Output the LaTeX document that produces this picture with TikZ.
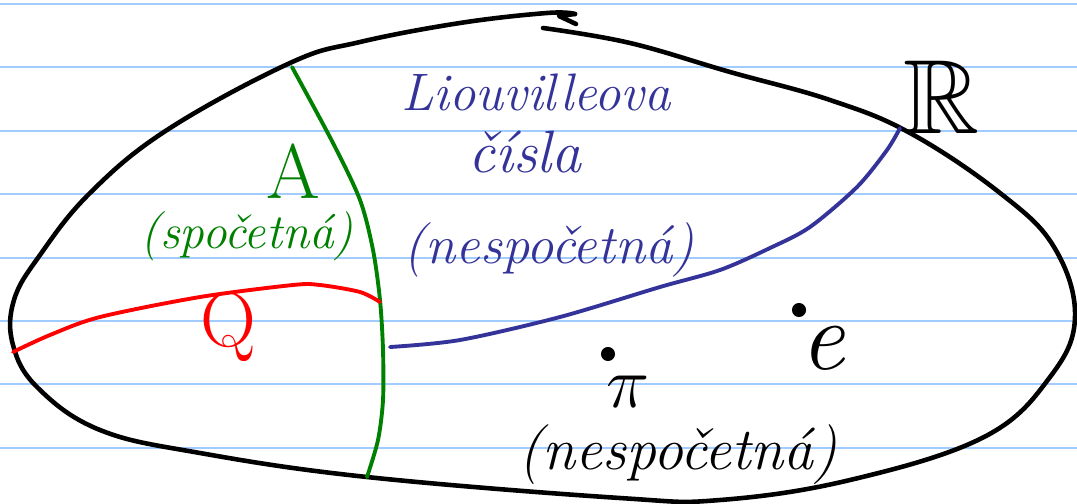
\documentclass[tikz,border=0pt]{standalone}
\usepackage{amssymb}
\definecolor{ruleblue}{RGB}{160,204,255}
\definecolor{pgreen}{RGB}{0,128,0}
\definecolor{pblue}{RGB}{51,51,153}
\definecolor{pred}{RGB}{255,0,0}
\tikzset{
  ruleline/.style={ruleblue, line width=0.6pt},
  pen/.style={line width=1.3pt, line cap=round, line join=round},
  cpen/.style={line width=1.1pt, line cap=round, line join=round},
  hand/.style={inner sep=0pt, font=\itshape}
}
\begin{document}
\begin{tikzpicture}[x=0.01cm,y=-0.01cm]
\useasboundingbox (0,0) rectangle (1077,503);
\fill[white] (0,0) rectangle (1077,503);
\foreach \k in {0,...,7} {
  \draw[ruleline] (0,{4+63.4*\k}) -- (1077,{4+63.4*\k});
}
% main outline
\draw[pen] plot[smooth, tension=0.65] coordinates {
 (543,28) (630,43) (730,72) (830,100) (910,133) (1000,193) (1054,247)
 (1075,317) (1050,377) (984,437) (850,480) (720,500) (620,498) (367,477)
 (200,453) (100,430) (38,388) (13,345) (14,300) (40,255) (90,193) (167,130)
 (290,63) (360,42) (460,23) (547,13) (575,14)};
\draw[pen] (575,14) -- (559,16) -- (576,24);
% green
\draw[cpen, pgreen] plot[smooth] coordinates {
 (292,67) (333,143) (360,200) (373,250) (380,300) (383,350) (383,400) (378,440) (367,477)};
% red
\draw[cpen, pred] plot[smooth] coordinates {
 (13,352) (50,335) (100,317) (200,297) (293,285) (320,285) (360,292) (380,302)};
% blue
\draw[cpen, pblue] plot[smooth] coordinates {
 (390,347) (460,340) (560,317) (660,287) (720,270) (770,248) (810,227) (857,187) (887,150) (900,128)};
% labels
\node[hand, pblue, font=\itshape\fontsize{15}{15}\selectfont] (liou) at (536,92) {Liouvilleova};
\node[hand, pblue, font=\itshape\fontsize{17}{17}\selectfont] (cisla) at (525,152) {čísla};
\node[hand, pblue, font=\itshape\fontsize{15.5}{15.5}\selectfont] (nesp1) at (549,250) {(nespočetná)};
\node[hand, pgreen, font=\fontsize{22}{22}\selectfont] (A) at (293,171) {A};
\node[hand, pgreen, font=\itshape\fontsize{14}{14}\selectfont] (spoc) at (247,236) {(spočetná)};
\node[hand, pred, font=\fontsize{22}{22}\selectfont] (Q) at (228,327) {Q};
\node[hand, font=\fontsize{30}{30}\selectfont] (R) at (942,97) {$\mathbb{R}$};
\fill (608,354) circle (2pt);
\node[hand, font=\fontsize{22}{22}\selectfont] (pi) at (628,392) {$\pi$};
\fill (799,310) circle (2pt);
\node[hand, font=\itshape\fontsize{28}{28}\selectfont] (e) at (823,348) {e};
\node[hand, font=\itshape\fontsize{17}{17}\selectfont] (nesp2) at (678,455) {(nespočetná)};
\end{tikzpicture}
\end{document}
